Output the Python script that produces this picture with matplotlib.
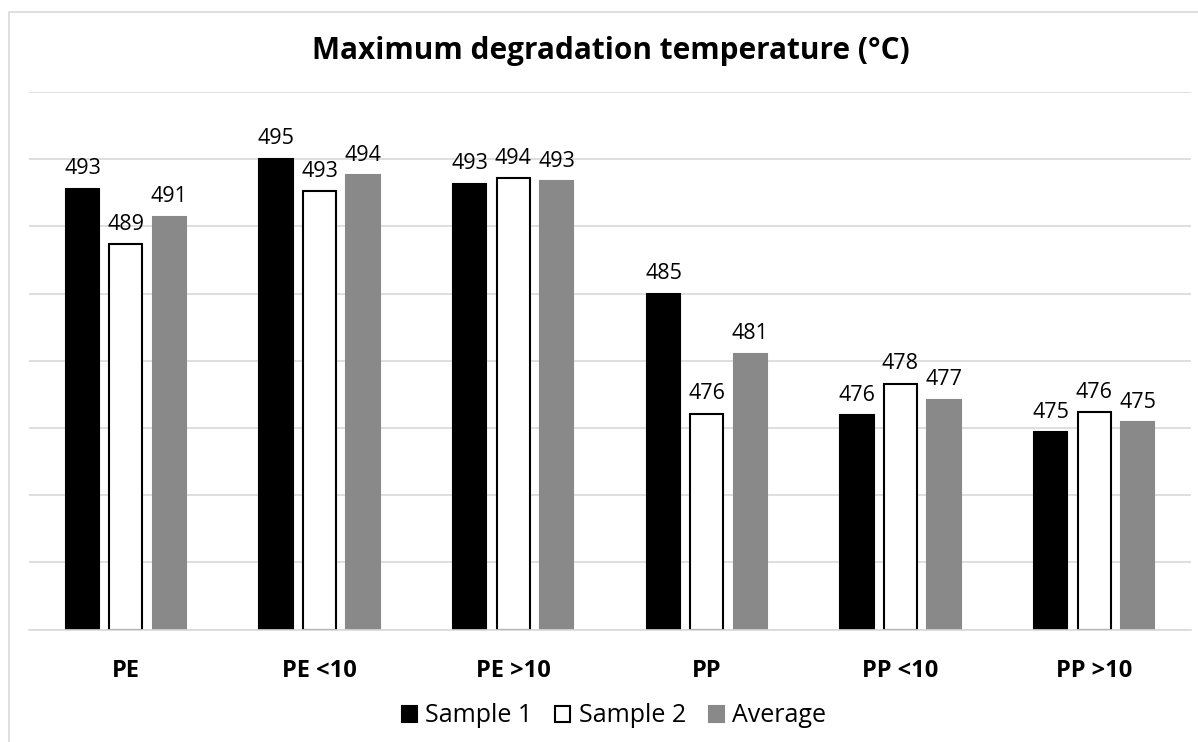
import matplotlib
matplotlib.use("Agg")
import matplotlib.pyplot as plt
from matplotlib.patches import Rectangle
import numpy as np

categories = ["PE", "PE <10", "PE >10", "PP", "PP <10", "PP >10"]
series_names = ["Sample 1", "Sample 2", "Average"]
sample1 = [492.78, 495.0, 493.15, 485.0, 475.93, 474.68]
sample2 = [488.67, 492.6, 493.57, 476.06, 478.3, 476.15]
average = [490.72, 493.8, 493.36, 480.53, 477.11, 475.42]

face_colors = ["#000000", "#ffffff", "#898989"]
edge_colors = ["#000000", "#000000", "#898989"]

plt.rcParams['font.family'] = ['Open Sans', 'DejaVu Sans']

W, H = 1198, 742
fig = plt.figure(figsize=(W / 100, H / 100), dpi=100)
fig.patch.set_facecolor("white")

# outer chart border (light gray), cut off at right and bottom
fig.patches.append(Rectangle((9 / W, -0.01), 1.05, 1 - 12 / H + 0.01,
                             transform=fig.transFigure, fill=False,
                             edgecolor="#d9d9d9", linewidth=1.2))

left, right, top, bottom = 29, 1191, 92, 629.5
ax = fig.add_axes([left / W, 1 - bottom / H, (right - left) / W, (bottom - top) / H])
ax.set_xlim(-0.5, len(categories) - 0.5)
ax.set_ylim(460, 500)
ax.set_yticks(np.arange(460, 501, 5))
ax.yaxis.grid(True, color="#d9d9d9", linewidth=1.2)
ax.set_axisbelow(True)
for s in ["left", "right", "top"]:
    ax.spines[s].set_visible(False)
ax.spines["bottom"].set_color("#d9d9d9")
ax.spines["bottom"].set_linewidth(1.2)
ax.tick_params(axis="y", left=False, labelleft=False)
ax.tick_params(axis="x", bottom=False, pad=18)
ax.set_xticks(range(len(categories)))
ax.set_xticklabels(categories, fontsize=17, fontweight="bold")

x = np.arange(len(categories))
pitch = 0.224
width = 0.172
all_series = [sample1, sample2, average]
for i, (vals, name) in enumerate(zip(all_series, series_names)):
    bars = ax.bar(x + (i - 1) * pitch, np.array(vals) - 460, width=width, bottom=460,
                  color=face_colors[i], edgecolor=edge_colors[i], linewidth=1.5,
                  label=name)
    for b, v in zip(bars, vals):
        ax.annotate(f"{v:.0f}", (b.get_x() + b.get_width() / 2, v),
                    xytext=(0, 7), textcoords="offset points",
                    ha="center", va="bottom", fontsize=15.5, color="#000000")

fig.text(611 / W, 1 - 51 / H, "Maximum degradation temperature (°C)",
         ha="center", va="center", fontsize=21.4, fontweight="bold")

leg = fig.legend(loc="center", bbox_to_anchor=(614 / W, 1 - 716 / H), ncol=3,
                 frameon=False, fontsize=18, handlelength=0.6, handleheight=0.6,
                 handletextpad=0.35, columnspacing=0.9, borderpad=0.2)

fig.savefig("out.png", dpi=100, facecolor="white")
